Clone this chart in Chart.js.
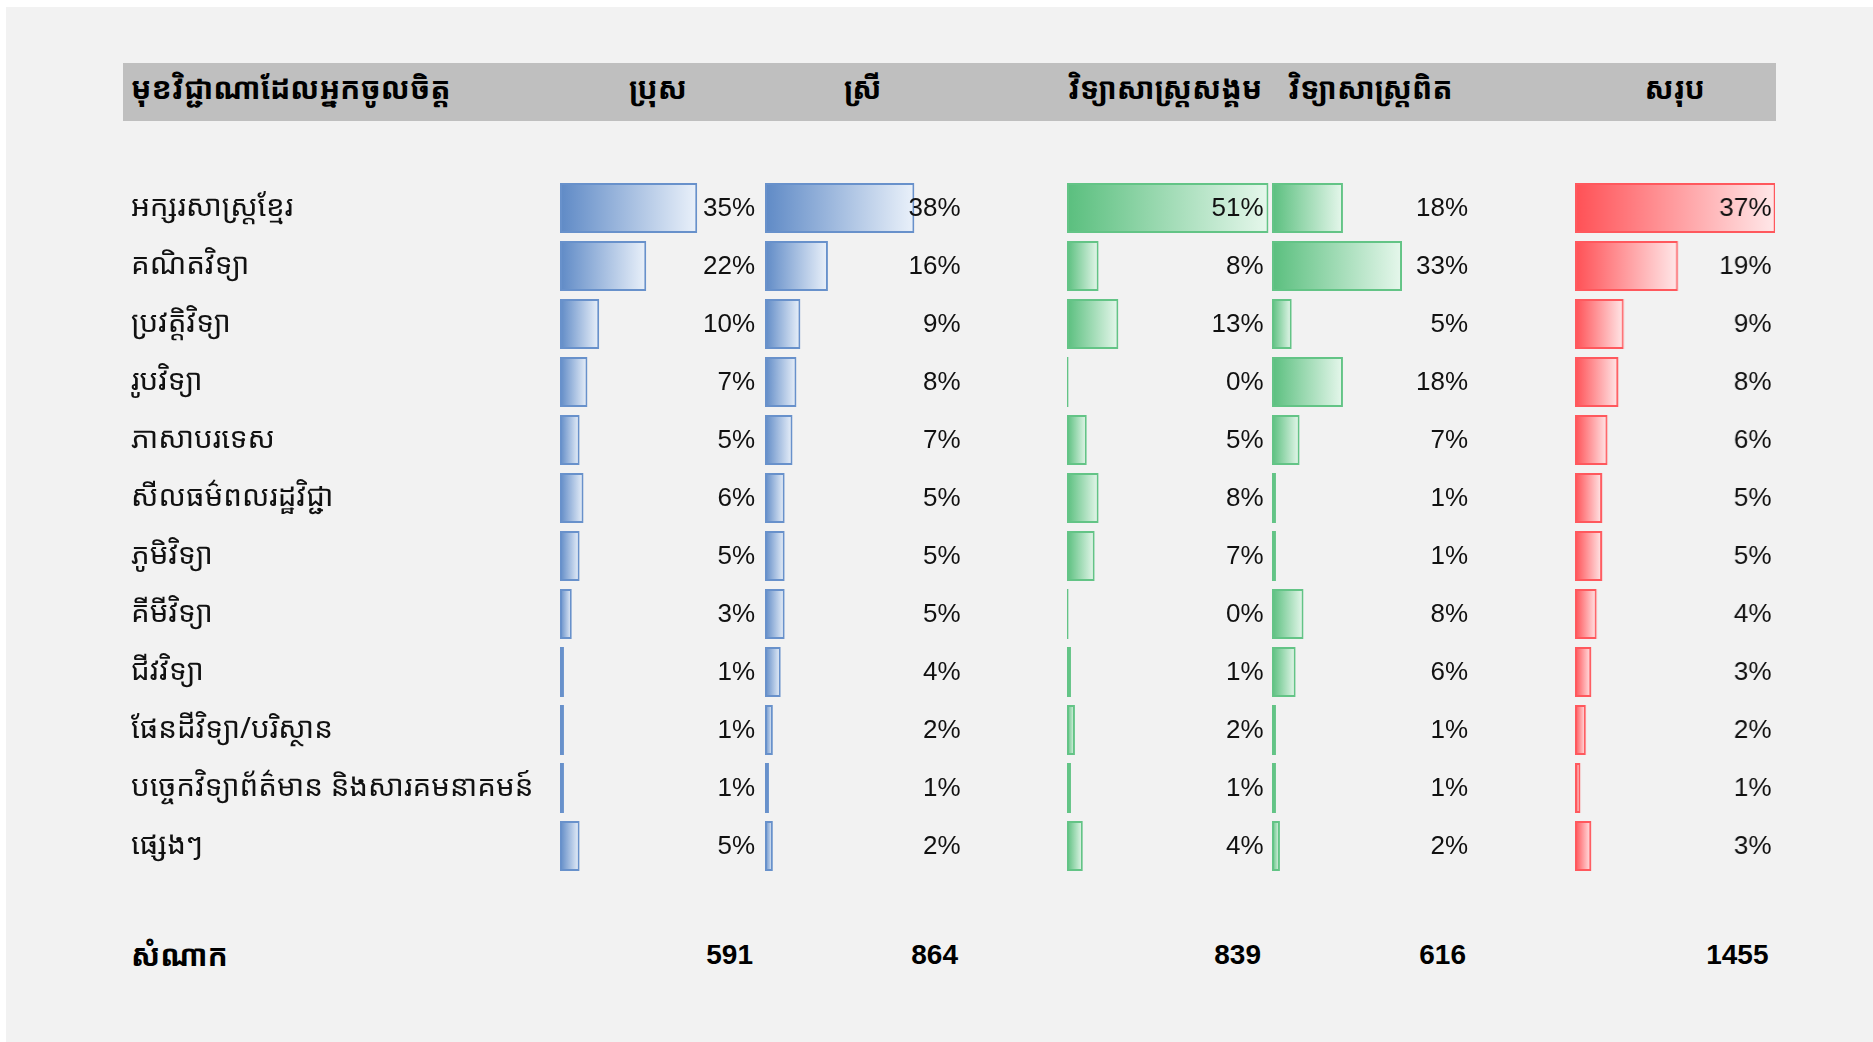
<!DOCTYPE html>
<html>
<head>
<meta charset="utf-8">
<script src="https://cdn.jsdelivr.net/npm/chart.js@4.4.1/dist/chart.umd.min.js"></script>
<style>
  html, body { margin:0; padding:0; background:#ffffff; width:1873px; height:1042px; overflow:hidden; }
  #panel { position:absolute; left:6px; top:7px; right:0; bottom:0; background:#f2f2f2; }
  #header { position:absolute; left:123px; top:63px; width:1653px; height:58px; background:#bfbfbf; }
  .km { font-family:'Noto Sans Khmer','Khmer OS','Khmer OS System','Leelawadee UI','Noto Sans',sans-serif; }
  .htxt { position:absolute; top:59px; height:58px; line-height:58px; font-size:30px; font-weight:bold; color:#000; white-space:nowrap; }
  .tot { position:absolute; height:40px; line-height:40px; top:935px; font-size:28px; font-weight:bold; color:#000; white-space:nowrap; }
  .chartbox { position:absolute; top:179px; height:696px; }
</style>
</head>
<body>
<div id="panel"></div>
<div id="header"></div>
<div id="layer"></div>
<script>
// ---------- data ----------
const headerLabel = 'មុខវិជ្ជាណាដែលអ្នកចូលចិត្ត';
const sampleLabel = 'សំណាក';
const categories = [
  'អក្សរសាស្ត្រខ្មែរ',
  'គណិតវិទ្យា',
  'ប្រវត្តិវិទ្យា',
  'រូបវិទ្យា',
  'ភាសាបរទេស',
  'សីលធម៌ពលរដ្ឋវិជ្ជា',
  'ភូមិវិទ្យា',
  'គីមីវិទ្យា',
  'ជីវវិទ្យា',
  'ផែនដីវិទ្យា/បរិស្ថាន',
  'បច្ចេកវិទ្យាព័ត៌មាន និងសារគមនាគមន៍',
  'ផ្សេងៗ'
];
const columnHeaders = ['ប្រុស', 'ស្រី', 'វិទ្យាសាស្ត្រសង្គម', 'វិទ្យាសាស្ត្រពិត', 'សរុប'];
const maleValues    = [35, 22, 10, 7, 5, 6, 5, 3, 1, 1, 1, 5];
const femaleValues  = [38, 16, 9, 8, 7, 5, 5, 5, 4, 2, 1, 2];
const socialValues  = [51, 8, 13, 0.4, 5, 8, 7, 0.4, 1, 2, 1, 4];
const naturalValues = [18, 33, 5, 18, 7, 1, 1, 8, 6, 1, 1, 2];
const totalValues   = [37, 19, 9, 8, 6, 5, 5, 4, 3, 2, 1, 3];
const sampleSizes   = [591, 864, 839, 616, 1455];

// ---------- layout / styles ----------
const LABEL_LEFT = 131;
const columns = [
  { values: maleValues,    left: 560,   width: 196,   max: 50, inset: 1, dark:'#5f8ac6', light:'#eaf1fa', border:'#6891cb' },
  { values: femaleValues,  left: 764.5, width: 196.5, max: 50, inset: 1, dark:'#5f8ac6', light:'#eaf1fa', border:'#6891cb' },
  { values: socialValues,  left: 1066.5,width: 197.5, max: 50, inset: 1, dark:'#5abf7e', light:'#e6f7ec', border:'#63c486' },
  { values: naturalValues, left: 1272,  width: 197,   max: 50, inset: 1, dark:'#5abf7e', light:'#e6f7ec', border:'#63c486' },
  { values: totalValues,   left: 1575,  width: 199.5, max: 37, inset: 4, dark:'#ff5156', light:'#ffe8e9', border:'#ff585d' }
];
const KM_FONT = "'Noto Sans Khmer','Khmer OS','Khmer OS System','Leelawadee UI','Noto Sans',sans-serif";
const NUM_FONT = "'Liberation Sans', Arial, sans-serif";

// header + totals text
const layer = document.getElementById('layer');
function addText(cls, text, style) {
  const d = document.createElement('div');
  d.className = cls;
  d.textContent = text;
  Object.assign(d.style, style);
  layer.appendChild(d);
  return d;
}
addText('htxt km', headerLabel, { left: LABEL_LEFT + 'px' });
columns.forEach((c, i) => {
  addText('htxt km', columnHeaders[i], { left: c.left + 'px', width: c.width + 'px', textAlign: 'center' });
});
addText('tot km', sampleLabel, { left: LABEL_LEFT + 'px', fontSize: '30px' });
columns.forEach((c, i) => {
  addText('tot', String(sampleSizes[i]), {
    left: (c.left - 100) + 'px', width: (c.width + 100 - 2 - c.inset) + 'px', textAlign: 'right', fontFamily: NUM_FONT
  });
});

// percent label plugin
const pctLabels = {
  id: 'pctLabels',
  afterDatasetsDraw(chart, args, opts) {
    const ctx = chart.ctx;
    const meta = chart.getDatasetMeta(0);
    const data = chart.data.datasets[0].data;
    ctx.save();
    ctx.font = '26px ' + NUM_FONT;
    ctx.fillStyle = '#111';
    ctx.textAlign = 'right';
    ctx.textBaseline = 'middle';
    meta.data.forEach((bar, i) => {
      ctx.fillText(Math.round(data[i]) + '%', chart.chartArea.right - opts.inset, bar.y + 1);
    });
    ctx.restore();
  }
};

columns.forEach((c, idx) => {
  const first = idx === 0;
  const box = document.createElement('div');
  box.className = 'chartbox';
  const left = first ? LABEL_LEFT : c.left;
  const width = first ? (c.left + c.width - LABEL_LEFT) : c.width;
  const extra = idx === 2 ? 6 : 0;
  box.style.left = left + 'px';
  box.style.width = (width + extra) + 'px';
  const cv = document.createElement('canvas');
  box.appendChild(cv);
  layer.appendChild(box);

  new Chart(cv, {
    type: 'bar',
    data: {
      labels: categories,
      datasets: [{
        data: c.values,
        borderColor: c.border,
        borderWidth: 2,
        borderSkipped: false,
        clip: false,
        categoryPercentage: 1,
        barPercentage: 0.862,
        backgroundColor: (context) => {
          const chart = context.chart;
          if (!chart.chartArea || context.type !== 'data') return c.light;
          const xs = chart.scales.x;
          const x0 = xs.getPixelForValue(0);
          const x1 = xs.getPixelForValue(context.raw);
          const g = chart.ctx.createLinearGradient(x0, 0, Math.max(x1, x0 + 1), 0);
          g.addColorStop(0, c.dark);
          g.addColorStop(1, c.light);
          return g;
        }
      }]
    },
    options: {
      indexAxis: 'y',
      responsive: true,
      maintainAspectRatio: false,
      animation: false,
      layout: { padding: { left: 0, right: extra, top: 0, bottom: 0 } },
      plugins: {
        legend: { display: false }, tooltip: { enabled: false }, title: { display: false },
        pctLabels: { inset: c.inset + extra * 0 }
      },
      scales: {
        x: { display: false, min: 0, max: c.max },
        y: {
          display: first,
          grid: { display: false },
          border: { display: false },
          ticks: {
            autoSkip: false,
            crossAlign: 'far',
            padding: 0,
            color: '#111',
            font: { family: KM_FONT, size: 29.5 }
          },
          afterFit: (scale) => {
            if (first) {
              scale.width = c.left - LABEL_LEFT;
              scale.paddingTop = 0;
              scale.paddingBottom = 0;
            }
          }
        }
      }
    },
    plugins: [pctLabels]
  });
});
</script>
</body>
</html>
